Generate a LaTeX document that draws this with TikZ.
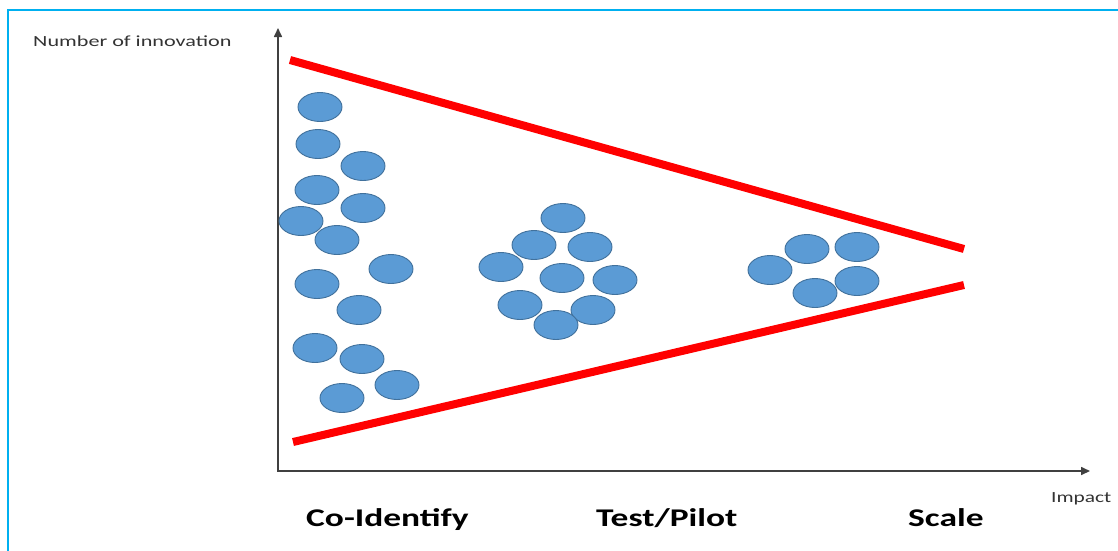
\documentclass[tikz,border=0pt]{standalone}
\usepackage{fontspec}
\setmainfont{Carlito}
\usetikzlibrary{shapes.geometric,arrows.meta}
\definecolor{frameblue}{HTML}{00B0F0}
\definecolor{dotfill}{HTML}{5B9BD5}
\definecolor{dotedge}{HTML}{41719C}
\definecolor{axisgray}{HTML}{404040}
\tikzset{
  dot/.style={ellipse, fill=dotfill, draw=dotedge, line width=0.9pt,
    minimum width=44pt, minimum height=29pt, inner sep=0pt},
  funnel/.style={draw=red, line width=8pt},
  axisline/.style={draw=axisgray, line width=1.6pt,
    {Triangle[length=9pt,width=8pt]}-{Triangle[length=9pt,width=8pt]}},
  axislabel/.style={anchor=base west, inner sep=0pt, text=black!80,
    font=\fontsize{15.5}{18}\selectfont},
  stagelabel/.style={anchor=base west, inner sep=0pt,
    font=\fontsize{25.5}{30}\selectfont\bfseries},
}
\begin{document}
\begin{tikzpicture}[x=1pt,y=-1pt]
\useasboundingbox (0,0) rectangle (1118,550);
\fill[white] (0,0) rectangle (1118,550);
% outer frame (open to the right and bottom)
\draw[frameblue, line width=2pt] (1120,10) -- (8,10) -- (8,552);

% axes
\coordinate (ytop) at (278,28);
\coordinate (origin) at (278,471);
\coordinate (xend) at (1090,471);
\draw[axisline] (ytop) -- (origin) -- (xend);

% funnel edges
\coordinate (ua) at (290,60);
\coordinate (ub) at (964,249);
\coordinate (la) at (293,442);
\coordinate (lb) at (964,285);
\draw[funnel] (ua) -- (ub);
\draw[funnel] (la) -- (lb);

% co-identify cluster
\node[dot] (c1) at (320,107) {};
\node[dot] (c2) at (318,144) {};
\node[dot] (c3) at (363,166) {};
\node[dot] (c4) at (317,190) {};
\node[dot] (c5) at (363,208) {};
\node[dot] (c6) at (301,221) {};
\node[dot] (c7) at (337,240) {};
\node[dot] (c8) at (391,269) {};
\node[dot] (c9) at (317,284) {};
\node[dot] (c10) at (359,310) {};
\node[dot] (c11) at (315,348) {};
\node[dot] (c12) at (362,359) {};
\node[dot] (c13) at (397,385) {};
\node[dot] (c14) at (342,398) {};

% test/pilot cluster
\node[dot] (t1) at (563,218) {};
\node[dot] (t2) at (534,245) {};
\node[dot] (t3) at (590,247) {};
\node[dot] (t4) at (501,267) {};
\node[dot] (t5) at (562,278) {};
\node[dot] (t6) at (615,280) {};
\node[dot] (t7) at (520,305) {};
\node[dot] (t8) at (593,310) {};
\node[dot] (t9) at (556,325) {};

% scale cluster
\node[dot] (s1) at (770,270) {};
\node[dot] (s2) at (807,249) {};
\node[dot] (s3) at (857,247) {};
\node[dot] (s4) at (815,293) {};
\node[dot] (s5) at (857,281) {};

% labels
\node[axislabel] (ylab) at (33,46.5) {\scalebox{1.43}[1]{Number of innovation}};
\node[axislabel] (xlab) at (1051,502.5) {\scalebox{1.38}[1]{Impact}};
\node[stagelabel] (st1) at (306,526.5) {\scalebox{1.39}[1]{Co-Identify}};
\node[stagelabel] (st2) at (596,526.5) {\scalebox{1.39}[1]{Test/Pilot}};
\node[stagelabel] (st3) at (908,526.5) {\scalebox{1.39}[1]{Scale}};
\end{tikzpicture}
\end{document}
